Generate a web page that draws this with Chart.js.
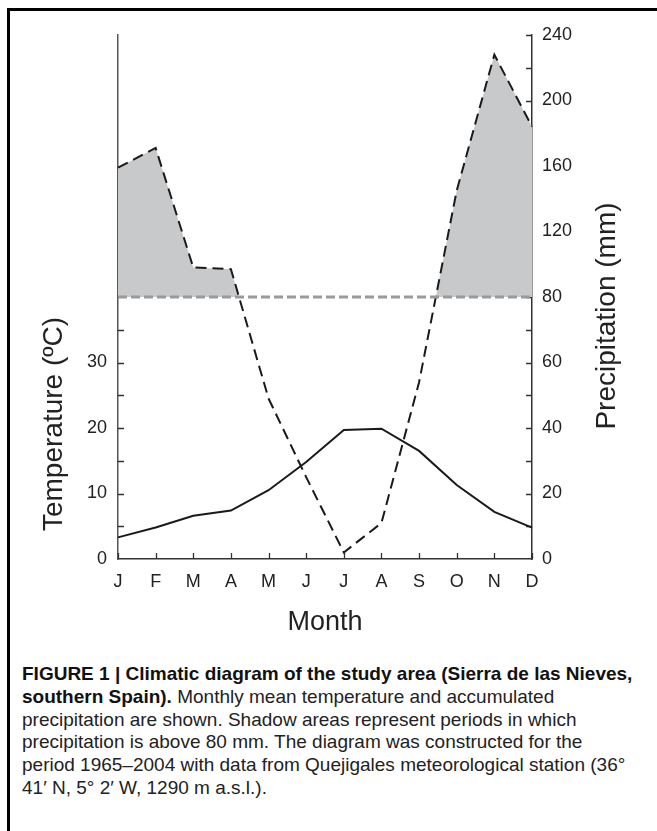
<!DOCTYPE html>
<html>
<head>
<meta charset="utf-8">
<title>Climatic diagram - Sierra de las Nieves</title>
<script src="https://cdn.jsdelivr.net/npm/chart.js@4.4.1/dist/chart.umd.min.js"></script>
<style>
  html, body { margin: 0; padding: 0; background: #fff; }
  body { width: 657px; height: 831px; position: relative; overflow: hidden; }
  #frame {
    position: absolute; left: 7px; top: 8px; width: 700px; height: 900px;
    border-top: 3px solid #000; border-left: 3px solid #000;
  }
  #chart { position: absolute; left: 0; top: 0; }
  #caption {
    position: absolute; left: 22px; top: 663px; width: 630px;
    font-family: "Liberation Sans", Arial, sans-serif;
    font-size: 19px; line-height: 22.8px; color: #222;
    white-space: nowrap;
  }
  #caption b { color: #111; }
</style>
</head>
<body>
<div id="frame"></div>
<canvas id="chart" width="657" height="648"></canvas>
<div id="caption">
  <b>FIGURE 1 | Climatic diagram of the study area (Sierra de las Nieves,<br>
  southern Spain).</b> Monthly mean temperature and accumulated<br>
  precipitation are shown. Shadow areas represent periods in which<br>
  precipitation is above 80 mm. The diagram was constructed for the<br>
  period 1965–2004 with data from Quejigales meteorological station (36°<br>
  41′ N, 5° 2′ W, 1290 m a.s.l.).
</div>

<script>
// Monthly climate data, Quejigales station
const months = ['J', 'F', 'M', 'A', 'M', 'J', 'J', 'A', 'S', 'O', 'N', 'D'];
const temperature = [3.3, 4.8, 6.6, 7.4, 10.5, 14.8, 19.7, 19.9, 16.5, 11.3, 7.2, 4.8]; // ºC
const precipitation = [159, 171, 98, 97, 49, 25, 2, 11, 54, 145, 228, 184];       // mm
const THRESHOLD = 80; // mm, above this the precipitation scale is compressed 1:2
const precipTicks = [0, 20, 40, 60, 80, 120, 160, 200, 240];
const tempTicks = [0, 10, 20, 30];

const AXIS_COLOR = '#333';
const TEXT_COLOR = '#222';
const TICK_LEN = 6;
const TITLE_FONT = '28px "Liberation Sans", Arial, sans-serif';

// Walter-Lieth style: values above 80 mm are drawn at half scale
function toAxis(p) {
  return p <= THRESHOLD ? p : THRESHOLD + (p - THRESHOLD) / 2;
}
function fromAxis(v) {
  return v <= THRESHOLD ? v : THRESHOLD + (v - THRESHOLD) * 2;
}

Chart.defaults.font.family = '"Liberation Sans", Arial, sans-serif';
Chart.defaults.color = TEXT_COLOR;

// tick marks pointing into the plot, drawn under the datasets
const inwardTicks = {
  id: 'inwardTicks',
  beforeDatasetsDraw(chart) {
    const { ctx, chartArea, scales } = chart;
    ctx.save();
    ctx.strokeStyle = AXIS_COLOR;
    ctx.lineWidth = 1.3;
    ctx.beginPath();
    scales.x.ticks.forEach((t, i) => {
      const x = Math.round(scales.x.getPixelForTick(i)) + 0.5;
      ctx.moveTo(x, chartArea.bottom);
      ctx.lineTo(x, chartArea.bottom - TICK_LEN);
    });
    scales.yT.ticks.forEach(t => {
      if (t.value <= 0 || t.value > 35) return;
      const y = Math.round(scales.yT.getPixelForValue(t.value)) + 0.5;
      ctx.moveTo(chartArea.left, y);
      ctx.lineTo(chartArea.left + TICK_LEN, y);
    });
    scales.yP.ticks.forEach(t => {
      if (t.value <= 0) return;
      const y = Math.round(scales.yP.getPixelForValue(t.value)) + 0.5;
      ctx.moveTo(chartArea.right, y);
      ctx.lineTo(chartArea.right - TICK_LEN, y);
    });
    ctx.stroke();
    ctx.restore();
  }
};

// both vertical titles read bottom-to-top, as in the original figure
const axisTitles = {
  id: 'axisTitles',
  afterDraw(chart) {
    const { ctx, chartArea, scales } = chart;
    const drawV = (text, x, y) => {
      ctx.save();
      ctx.translate(x, y);
      ctx.rotate(-Math.PI / 2);
      ctx.font = TITLE_FONT;
      ctx.fillStyle = TEXT_COLOR;
      ctx.textAlign = 'center';
      ctx.textBaseline = 'middle';
      ctx.fillText(text, 0, 0);
      ctx.restore();
    };
    // temperature title centred on the 0-40 ºC band
    const tMid = (scales.yT.getPixelForValue(0) + scales.yT.getPixelForValue(40)) / 2;
    drawV('Temperature (ºC)', scales.yT.left + 54, tMid - 4);
    drawV('Precipitation (mm)', scales.yP.right - 50, (chartArea.top + chartArea.bottom) / 2 + 19);
  }
};

new Chart(document.getElementById('chart'), {
  type: 'line',
  data: {
    labels: months,
    datasets: [
      {
        label: 'Threshold 80 mm',
        data: months.map(() => THRESHOLD),
        yAxisID: 'yP',
        borderColor: '#9a9a9a',
        borderWidth: 3,
        borderDash: [9, 4],
        pointRadius: 0,
        fill: false,
        order: 0
      },
      {
        label: 'Temperature',
        data: temperature,
        yAxisID: 'yT',
        borderColor: '#1a1a1a',
        borderWidth: 2,
        pointRadius: 0,
        tension: 0,
        fill: false,
        order: 1
      },
      {
        label: 'Precipitation',
        data: precipitation.map(toAxis),
        yAxisID: 'yP',
        borderColor: '#1a1a1a',
        borderWidth: 2,
        borderDash: [11, 6],
        pointRadius: 0,
        tension: 0,
        fill: {
          target: { value: THRESHOLD },
          above: '#c8c9cb',
          below: 'rgba(0,0,0,0)'
        },
        order: 2
      }
    ]
  },
  options: {
    responsive: false,
    animation: false,
    devicePixelRatio: 1,
    layout: { padding: { top: 35, left: 0, right: 0, bottom: 0 } },
    plugins: {
      legend: { display: false },
      tooltip: { enabled: false }
    },
    scales: {
      x: {
        offset: false,
        grid: { display: false, drawTicks: false },
        border: { display: true, color: AXIS_COLOR, width: 1.5 },
        ticks: { font: { size: 18 }, padding: 12, maxRotation: 0, autoSkip: false },
        title: {
          display: true, text: 'Month',
          font: { size: 27 }, padding: { top: 4, bottom: 9 }
        },
        afterFit(scale) { scale.height = 89; }
      },
      yT: {
        position: 'left',
        min: 0,
        max: 80,
        grid: { display: false, drawTicks: false },
        border: { display: true, color: '#555', width: 1.5 },
        ticks: {
          stepSize: 5,
          autoSkip: false,
          font: { size: 18 },
          padding: 11,
          callback: v => tempTicks.includes(v) ? v : ''
        },
        afterFit(scale) { scale.width = 118; }
      },
      yP: {
        position: 'right',
        min: 0,
        max: toAxis(240),
        grid: { display: false, drawTicks: false },
        border: { display: true, color: AXIS_COLOR, width: 1.5 },
        ticks: {
          stepSize: 10,
          autoSkip: false,
          font: { size: 18 },
          padding: 10,
          callback: v => precipTicks.includes(fromAxis(v)) ? fromAxis(v) : ''
        },
        afterFit(scale) { scale.width = 125; }
      }
    }
  },
  plugins: [inwardTicks, axisTitles]
});
</script>
</body>
</html>
